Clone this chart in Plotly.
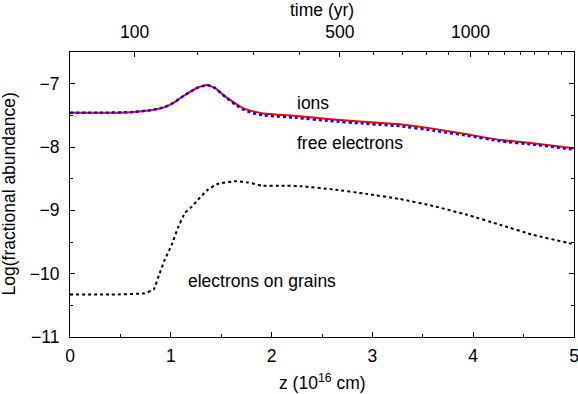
import plotly.graph_objects as go

# z positions (10^16 cm) and log abundances
z_ion = [0.0, 0.3, 0.6, 0.8, 0.94, 1.03, 1.11, 1.2, 1.27, 1.36, 1.44, 1.54, 1.64,
         1.72, 1.8, 1.92, 2.25, 2.58, 2.91, 3.27, 3.6, 3.94, 4.27, 4.59, 5.0]
ions = [-7.46, -7.46, -7.45, -7.42, -7.37, -7.3, -7.21, -7.12, -7.06, -7.02, -7.07,
        -7.2, -7.31, -7.39, -7.43, -7.47, -7.51, -7.56, -7.6, -7.64, -7.71, -7.8,
        -7.89, -7.94, -8.02]
free_electrons = [-7.46, -7.46, -7.45, -7.42, -7.37, -7.3, -7.21, -7.12, -7.06, -7.02,
                  -7.07, -7.21, -7.33, -7.41, -7.46, -7.5, -7.54, -7.59, -7.63, -7.67,
                  -7.74, -7.82, -7.91, -7.96, -8.04]

z_grain = [0.0, 0.4, 0.74, 0.83, 0.89, 0.94, 1.01, 1.07, 1.14, 1.21, 1.27, 1.37, 1.47,
           1.64, 1.77, 1.9, 2.1, 2.3, 2.61, 2.94, 3.27, 3.6, 3.94, 4.27, 4.6, 4.93, 5.0]
grain_electrons = [-10.33, -10.33, -10.31, -10.25, -9.99, -9.78, -9.54, -9.28, -9.04,
                   -8.94, -8.83, -8.67, -8.58, -8.54, -8.56, -8.61, -8.61, -8.62, -8.67,
                   -8.74, -8.82, -8.93, -9.07, -9.23, -9.39, -9.51, -9.54]

# top axis: time (yr) marks located at these z values
time_major_z = [0.640, 2.677, 3.973]
time_labels = ["100", "500", "1000"]
time_minor_z = [1.262, 1.820, 2.277, 3.008, 3.296, 3.534, 3.752,
                4.152, 4.310, 4.469, 4.608, 4.747, 4.873]

FONT = "Liberation Sans, Arial, sans-serif"
FS = 17.5

fig = go.Figure()
fig.add_trace(go.Scatter(x=z_ion, y=ions, mode="lines", name="ions",
                         line=dict(color="#ff0000", width=2, shape="spline", smoothing=0.3)))
fig.add_trace(go.Scatter(x=z_ion, y=free_electrons, mode="lines", name="free electrons",
                         line=dict(color="#0000ff", width=2.5, dash="dot",
                                   shape="spline", smoothing=0.3)))
fig.add_trace(go.Scatter(x=z_grain, y=grain_electrons, mode="lines",
                         name="electrons on grains",
                         line=dict(color="black", width=2, dash="dot",
                                   shape="spline", smoothing=0.3)))
# carrier for the top time axis
fig.add_trace(go.Scatter(x=z_ion, y=ions, xaxis="x2", mode="lines", opacity=0,
                         hoverinfo="skip", showlegend=False))

axis_common = dict(showgrid=False, zeroline=False, showline=True, linecolor="black",
                   linewidth=1, ticks="inside", tickcolor="black", tickwidth=1,
                   ticklen=5, automargin=False, ticklabeloverflow="allow",
                   tickfont=dict(size=FS, color="black", family=FONT))

fig.update_layout(
    width=578, height=394,
    margin=dict(l=70, r=4, t=52, b=57),
    plot_bgcolor="white", paper_bgcolor="white",
    showlegend=False,
    font=dict(family=FONT, size=FS, color="black"),
    xaxis=dict(range=[0, 5], tickvals=[0, 1, 2, 3, 4, 5], mirror=True,
               minor=dict(tickvals=[0.5, 1.5, 2.5, 3.5, 4.5], ticks="inside",
                          ticklen=3, tickcolor="black"),
               ticklabelstandoff=3, **axis_common),
    xaxis2=dict(range=[0, 5], overlaying="x", side="top", anchor="y",
                tickvals=time_major_z, ticktext=time_labels,
                minor=dict(tickvals=time_minor_z, ticks="inside", ticklen=3,
                           tickcolor="black"),
                ticklabelstandoff=6, **axis_common),
    yaxis=dict(range=[-11, -6.5], tickvals=[-11, -10, -9, -8, -7], mirror="ticks",
               minor=dict(tickvals=[-10.5, -9.5, -8.5, -7.5], ticks="inside",
                          ticklen=3, tickcolor="black"),
               ticklabelstandoff=6, **axis_common),
)

annotations = [
    dict(text="ions", x=2.23, y=-7.3, xref="x", yref="y", xanchor="left"),
    dict(text="free electrons", x=2.23, y=-7.93, xref="x", yref="y", xanchor="left"),
    dict(text="electrons on grains", x=1.15, y=-10.11, xref="x", yref="y", xanchor="left"),
    dict(text="z (10<sup>16</sup> cm)", x=0.5, y=-0.158, xref="paper", yref="paper",
         yanchor="middle"),
    dict(text="time (yr)", x=0.5, y=1.147, xref="paper", yref="paper", yanchor="middle"),
    dict(text="Log(fractional abundance)", x=-0.123, y=0.5, xref="paper", yref="paper",
         textangle=-90, xanchor="center", yanchor="middle"),
]
for a in annotations:
    fig.add_annotation(showarrow=False, font=dict(size=FS, color="black", family=FONT), **a)

# drop the default page margin so the figure sits at the window's corner
fig.write_html("out.html", config={"displayModeBar": False},
               post_script="document.body.style.margin = '0';")
